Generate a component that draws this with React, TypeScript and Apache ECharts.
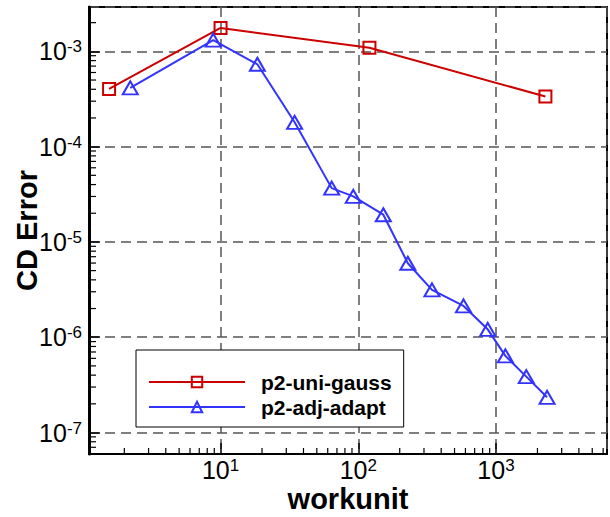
import React, { useEffect, useRef } from 'react';
import * as echarts from 'echarts';

const seriesNames = ['p2-uni-gauss', 'p2-adj-adapt'];
const uniGaussX = [1.55, 10.0, 120.5, 2285];
const uniGaussY = [4.03e-4, 1.76e-3, 1.09e-3, 3.36e-4];
const adjAdaptX = [2.21, 8.84, 18.5, 34.5, 64.1, 92.0, 152, 229, 343, 581, 871, 1170, 1660, 2350];
const adjAdaptY = [4.13e-4, 1.31e-3, 7.32e-4, 1.8e-4, 3.67e-5, 3.01e-5, 1.93e-5, 5.98e-6, 3.14e-6, 2.13e-6, 1.21e-6, 6.37e-7, 3.86e-7, 2.34e-7];
const xRange = [1.108, 6400];
const yRange = [5.95e-8, 2.92e-3];
const xDecades = [1, 10, 100, 1000];
const yDecades = [1e-8, 1e-7, 1e-6, 1e-5, 1e-4, 1e-3];
const minorMultipliers = [2, 3, 4, 5, 6, 7, 8, 9];

const RED = '#cc0000';
const BLUE = '#3333ff';
const FONT = 'Liberation Sans, Arial, sans-serif';

function minorValues(decades: number[], range: number[]) {
  const out: number[] = [];
  decades.forEach((d) => minorMultipliers.forEach((m) => {
    const v = d * m;
    if (v > range[0] && v < range[1]) out.push(v);
  }));
  return out;
}

const expLabel = (v: number) => {
  const e = Math.round(Math.log10(v));
  return `{b|10}{s|${e}}`;
};

const labelRich = {
  b: { fontSize: 25, fontFamily: FONT, color: '#000', lineHeight: 26 },
  s: { fontSize: 17, fontFamily: FONT, color: '#000', lineHeight: 17, verticalAlign: 'top' as const },
};

export default function App() {
  const ref = useRef<HTMLDivElement>(null);
  useEffect(() => {
    if (!ref.current) return;
    const chart = echarts.init(ref.current, undefined, { renderer: 'svg' });
    const xMinor = minorValues(xDecades, xRange);
    const yMinor = minorValues(yDecades, yRange);
    chart.setOption({
      animation: false,
      backgroundColor: '#fff',
      grid: { left: 89, right: 3, top: 7, bottom: 63, show: true, borderColor: '#000', borderWidth: 2, backgroundColor: 'transparent', outerBoundsMode: 'none', containLabel: false },
      legend: {
        data: seriesNames,
        orient: 'vertical',
        left: 136,
        top: 350,
        padding: [21, 12, 9, 12],
        itemWidth: 96,
        itemHeight: 13,
        itemGap: 3,
        borderColor: '#000',
        borderWidth: 1,
        backgroundColor: '#fff',
        textStyle: { fontSize: 21, fontWeight: 'bold', fontFamily: FONT, color: '#000', lineHeight: 22, padding: [0, 0, 0, 11] },
      },
      xAxis: {
        type: 'log',
        logBase: 10,
        min: xRange[0],
        max: xRange[1],
        name: 'workunit',
        nameLocation: 'middle',
        nameGap: 30,
        nameMoveOverlap: false,
        nameTextStyle: { fontSize: 29, fontWeight: 'bold', fontFamily: FONT, color: '#000' },
        axisLine: { show: true, lineStyle: { color: '#000', width: 2 } },
        axisTick: { show: true, inside: true, length: 11, lineStyle: { color: '#000', width: 1.5 } },
        axisLabel: { formatter: expLabel, rich: labelRich, showMinLabel: false, showMaxLabel: false, margin: 3 },
        splitLine: { show: true, lineStyle: { type: [10, 6], color: '#555', width: 1.5 } },
        minorTick: { show: false },
      },
      yAxis: {
        type: 'log',
        logBase: 10,
        min: yRange[0],
        max: yRange[1],
        name: 'CD Error',
        nameLocation: 'middle',
        nameGap: 48,
        nameMoveOverlap: false,
        nameTextStyle: { fontSize: 29, fontWeight: 'bold', fontFamily: FONT, color: '#000' },
        axisLine: { show: true, lineStyle: { color: '#000', width: 3 } },
        axisTick: { show: true, inside: true, length: 11, lineStyle: { color: '#000', width: 1.5 } },
        axisLabel: { formatter: expLabel, rich: labelRich, showMinLabel: false, showMaxLabel: false, margin: 7 },
        splitLine: { show: true, lineStyle: { type: [10, 6], color: '#555', width: 1.5 } },
      },
      series: [
        {
          type: 'custom',
          silent: true,
          data: xMinor.map((v) => [v, 1e-5]),
          renderItem: (params: any, api: any) => {
            const x = api.coord([api.value(0), 1e-5])[0];
            const cs = params.coordSys;
            const b = cs.y + cs.height;
            return { type: 'line', shape: { x1: x, y1: b, x2: x, y2: b - 6 }, style: { stroke: '#000', lineWidth: 1.2 } };
          },
        },
        {
          type: 'custom',
          silent: true,
          data: yMinor.map((v) => [10, v]),
          renderItem: (params: any, api: any) => {
            const y = api.coord([10, api.value(1)])[1];
            const cs = params.coordSys;
            return { type: 'line', shape: { x1: cs.x, y1: y, x2: cs.x + 7, y2: y }, style: { stroke: '#000', lineWidth: 1.2 } };
          },
        },
        {
          name: seriesNames[0],
          type: 'line',
          data: uniGaussX.map((x, i) => [x, uniGaussY[i]]),
          symbol: 'rect',
          symbolSize: 12,
          lineStyle: { color: RED, width: 2 },
          itemStyle: { color: 'transparent', borderColor: RED, borderWidth: 2 },
          z: 5,
        },
        {
          name: seriesNames[1],
          type: 'line',
          data: adjAdaptX.map((x, i) => [x, adjAdaptY[i]]),
          symbol: 'triangle',
          symbolSize: [15, 13],
          lineStyle: { color: BLUE, width: 2 },
          itemStyle: { color: 'transparent', borderColor: BLUE, borderWidth: 2 },
          z: 5,
        },
      ],
    });
    return () => chart.dispose();
  }, []);
  return <div ref={ref} style={{ position: 'absolute', left: 0, top: 0, width: 610, height: 517 }} />;
}
